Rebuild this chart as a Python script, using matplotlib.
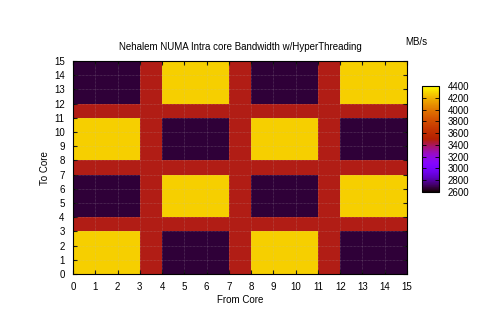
import numpy as np
import matplotlib
matplotlib.use("Agg")
import matplotlib.pyplot as plt
from matplotlib.colors import ListedColormap

# Data: bandwidth (MB/s) measured at each (from core, to core) pair
from_cores = list(range(16))
to_cores = list(range(16))
row_a = [4280, 4280, 4280, 4280, 2670, 2670, 2670, 2670, 4280, 4280, 4280, 4280, 2670, 2670, 2670, 2670]
row_b = [2670, 2670, 2670, 2670, 4280, 4280, 4280, 4280, 2670, 2670, 2670, 2670, 4280, 4280, 4280, 4280]
bandwidth = [
    row_a, row_a, row_a, row_a,
    row_b, row_b, row_b, row_b,
    row_a, row_a, row_a, row_a,
    row_b, row_b, row_b, row_b,
]
x_ticks = list(range(16))
y_ticks = list(range(16))
cb_ticks = [2600, 2800, 3000, 3200, 3400, 3600, 3800, 4000, 4200, 4400]
cb_min, cb_max = 2600, 4400

plt.rcParams['font.family'] = ['Liberation Sans', 'DejaVu Sans']
plt.rcParams['font.size'] = 7

# gnuplot default palette (rgbformulae 7,5,15)
t = np.linspace(0, 1, 256)
cols = np.stack([np.sqrt(t), t ** 3, np.clip(np.sin(2 * np.pi * t), 0, 1)], axis=1)
cmap = ListedColormap(cols)

Z = np.array(bandwidth, dtype=float)
# pm3d: each quad colored by mean of its 4 corners
C = (Z[:-1, :-1] + Z[1:, :-1] + Z[:-1, 1:] + Z[1:, 1:]) / 4.0

fig = plt.figure(figsize=(4.8, 3.36), dpi=100)
ax = fig.add_axes([73 / 480, 1 - 274 / 336, 334 / 480, 213 / 336])
im = ax.imshow(C, cmap=cmap, vmin=cb_min, vmax=cb_max, origin='lower',
               extent=[from_cores[0], from_cores[-1], to_cores[0], to_cores[-1]],
               interpolation='nearest', aspect='auto')
ax.set_xlim(0, 15)
ax.set_ylim(0, 15)
ax.set_xticks(x_ticks)
ax.set_yticks(y_ticks)
ax.tick_params(direction='in', length=3, width=0.8, top=True, right=True, pad=6, labelsize=7)
for v in x_ticks[1:-1]:
    ax.axvline(v, color=(0.75, 0.75, 0.75), alpha=0.35, lw=0.5, ls=(0, (1, 1)))
    ax.axhline(v, color=(0.75, 0.75, 0.75), alpha=0.35, lw=0.5, ls=(0, (1, 1)))
for s in ax.spines.values():
    s.set_linewidth(0.8)

cax = fig.add_axes([422 / 480, 1 - 192 / 336, 17 / 480, 106 / 336])
cb = fig.colorbar(im, cax=cax, ticks=cb_ticks)
cb.outline.set_linewidth(0.8)
cax.tick_params(direction='in', length=3, width=0.6, left=True, right=True, pad=6, labelsize=7)

fig.text(240 / 480, 1 - 47 / 336, "Nehalem NUMA Intra core Bandwidth w/HyperThreading", ha='center', va='center', fontsize=7)
fig.text(405 / 480, 1 - 42 / 336, "MB/s", ha='left', va='center', fontsize=7)
fig.text(240 / 480, 1 - 300 / 336, "From Core", ha='center', va='center', fontsize=7)
fig.text(45 / 480, 1 - 168 / 336, "To Core", ha='center', va='center', rotation=90, fontsize=7)

fig.savefig("out.png", dpi=100)
